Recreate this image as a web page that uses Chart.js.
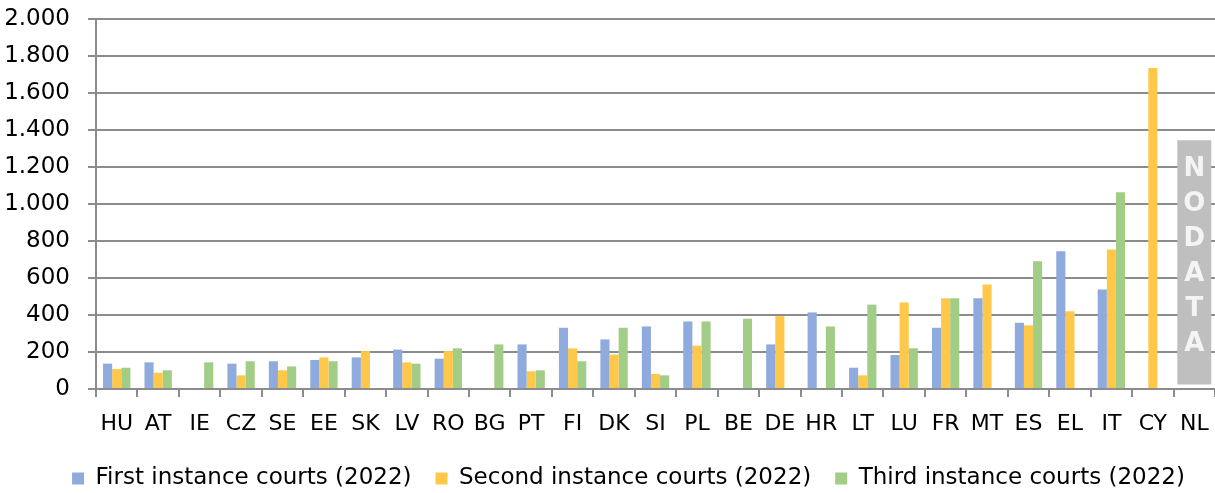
<!DOCTYPE html>
<html>
<head>
<meta charset="utf-8">
<script src="https://cdn.jsdelivr.net/npm/chart.js@4/dist/chart.umd.min.js"></script>
<style>
  html, body { margin: 0; padding: 0; background: #fff; }
  #wrap { width: 1215px; height: 493px; }
</style>
</head>
<body>
<div id="wrap"><canvas id="chart"></canvas></div>
<script>
// countries, ordered as in the source chart
const countries = ['HU','AT','IE','CZ','SE','EE','SK','LV','RO','BG','PT','FI','DK','SI','PL','BE','DE','HR','LT','LU','FR','MT','ES','EL','IT','CY','NL'];

// values (null = no bar)
const firstInstance  = [137,144,null,137,150,157,171,213,164,null,241,331,268,338,365,null,241,414,115,184,331,490,358,745,538,null,null];
const secondInstance = [108, 88,null, 74,101,171,205,144,205,null, 96,220,186, 81,234,null,394,null, 74,467,490,565,344,420,754,1735,null];
const thirdInstance  = [115,101,144,150,122,150,null,137,220,241,101,150,331, 74,365,380,null,338,456,220,490,null,690,null,1064,null,null];

// grey "NO DATA" box for NL (floating bar)
const noDataBox = countries.map(c => c === 'NL' ? [25, 1345] : null);
const noDataText = 'NODATA';

const yTicks = [0,200,400,600,800,1000,1200,1400,1600,1800,2000];

const FONT = 'DejaVu Sans';
const GRID = '#8c8c8c';

const noDataLabel = {
  id: 'noDataLabel',
  afterUpdate(chart) {
    // legend in the original sits a bit right of centre and lower
    const l = chart.legend;
    l.left += 21; l.right += 21;
    l.top += 7; l.bottom += 7;
  },
  afterDatasetsDraw(chart) {
    const meta = chart.getDatasetMeta(3);
    const ctx = chart.ctx;
    meta.data.forEach((bar, i) => {
      if (!noDataBox[i]) return;
      const mid = (bar.y + bar.base) / 2 - 6;
      const step = 35;
      ctx.save();
      ctx.fillStyle = '#f4f4f4';
      ctx.font = 'bold 26px ' + FONT;
      ctx.textAlign = 'center';
      ctx.textBaseline = 'middle';
      for (let k = 0; k < noDataText.length; k++) {
        ctx.fillText(noDataText[k], bar.x, mid + (k - (noDataText.length - 1) / 2) * step);
      }
      ctx.restore();
    });
  }
};

new Chart(document.getElementById('chart'), {
  type: 'bar',
  data: {
    labels: countries,
    datasets: [
      { label: 'First instance courts (2022)', data: firstInstance, backgroundColor: '#8faadc' },
      { label: 'Second instance courts (2022)', data: secondInstance, backgroundColor: '#ffc84b' },
      { label: 'Third instance courts (2022)', data: thirdInstance, backgroundColor: '#a1cd86' },
      { label: 'NO DATA', data: noDataBox, backgroundColor: '#bfbfbf', grouped: false,
        barPercentage: 0.82, categoryPercentage: 1 }
    ]
  },
  options: {
    responsive: true,
    maintainAspectRatio: false,
    animation: false,
    datasets: { bar: { barPercentage: 1, categoryPercentage: 0.66 } },
    layout: { padding: { top: 0, right: 0, left: 0, bottom: 0 } },
    plugins: {
      legend: {
        position: 'bottom',
        labels: {
          boxWidth: 12, boxHeight: 12, padding: 2,
          color: '#000',
          font: { family: FONT, size: 23 },
          filter: item => item.datasetIndex < 3,
          generateLabels: chart => Chart.defaults.plugins.legend.labels.generateLabels(chart)
            .map(l => Object.assign(l, { text: l.datasetIndex < 2 ? l.text + '   ' : l.text }))
        }
      },
      tooltip: { enabled: false }
    },
    scales: {
      x: {
        afterFit: axis => { axis.height = 69; axis.paddingRight = 0; },
        grid: { drawOnChartArea: false, drawTicks: true, tickLength: 8, color: GRID, lineWidth: 2, offset: true },
        border: { color: GRID, width: 2 },
        ticks: { color: '#000', font: { family: FONT, size: 22 }, padding: 14, maxRotation: 0, autoSkip: false }
      },
      y: {
        min: 0, max: 2000,
        afterFit: axis => { axis.width = 96; axis.paddingTop = 19; axis.paddingBottom = 0; },
        afterBuildTicks: axis => { axis.ticks = yTicks.map(v => ({ value: v })); },
        grid: { color: GRID, lineWidth: 2, tickLength: 8 },
        border: { color: GRID, width: 2 },
        ticks: {
          color: '#000', font: { family: FONT, size: 23 }, padding: 18,
          callback: v => String(v).replace(/\B(?=(\d{3})+(?!\d))/g, '.')
        }
      }
    }
  },
  plugins: [noDataLabel]
});
</script>
</body>
</html>
